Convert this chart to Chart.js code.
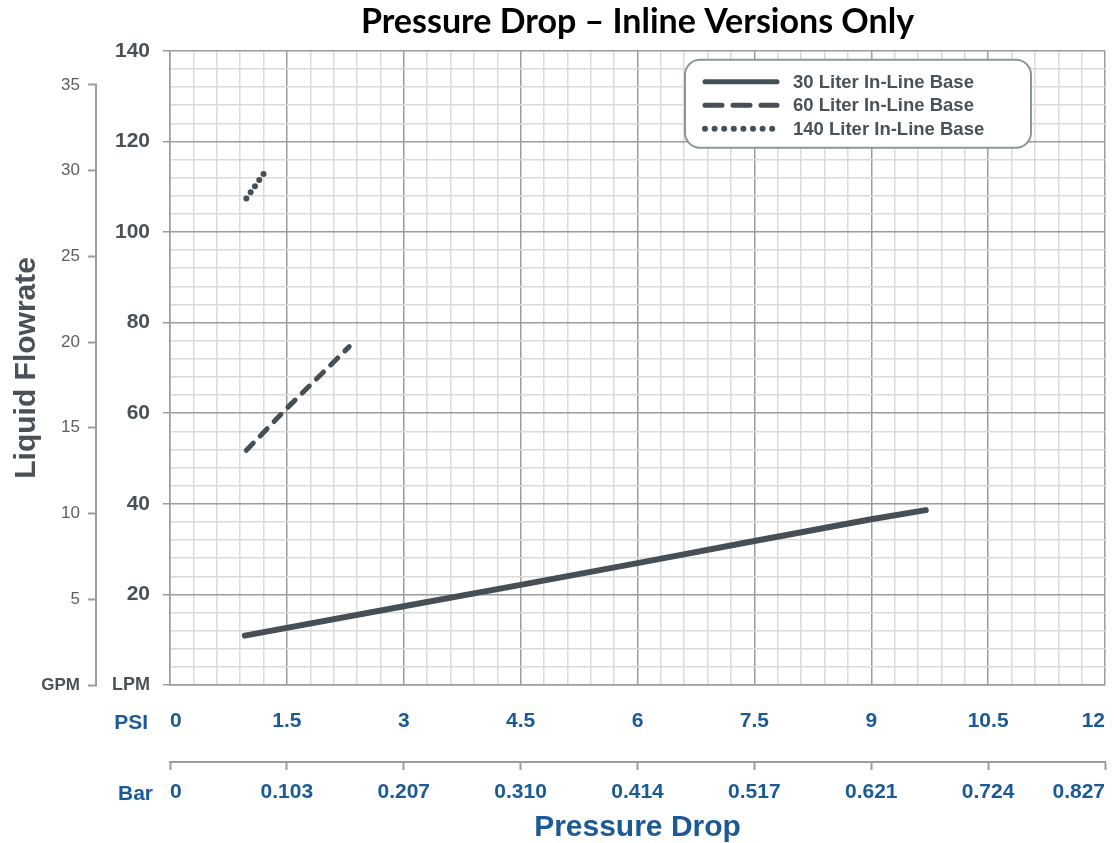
<!DOCTYPE html>
<html>
<head>
<meta charset="utf-8">
<title>Pressure Drop – Inline Versions Only</title>
<script src="https://cdn.jsdelivr.net/npm/chart.js@4.4.1/dist/chart.umd.min.js"></script>
<style>
	html, body { margin: 0; padding: 0; background: #fff; }
	#wrap { width: 1114px; height: 843px; }
</style>
</head>
<body>
<div id="wrap"><canvas id="chart1"></canvas></div>
<script>
'use strict';
// series (PSI on x, LPM on y)
var seriesNames = ['30 Liter In-Line Base', '60 Liter In-Line Base', '140 Liter In-Line Base'];
var psi30 = [0.96, 3, 4.5, 6, 7.5, 9, 9.7];
var lpm30 = [10.9, 17.4, 22.1, 26.9, 31.8, 36.6, 38.6];
var psi60 = [0.98, 1.5, 2.3];
var lpm60 = [51.8, 61.1, 74.7];
var psi140 = [0.98, 1.22];
var lpm140 = [107.4, 113.3];

// tick labels
var psiLabels = ['0', '1.5', '3', '4.5', '6', '7.5', '9', '10.5', '12'];
var barLabels = ['0', '0.103', '0.207', '0.310', '0.414', '0.517', '0.621', '0.724', '0.827'];
var lpmLabels = ['LPM', '20', '40', '60', '80', '100', '120', '140'];
var gpmLabels = ['GPM', '5', '10', '15', '20', '25', '30', '35'];
var LPM_PER_GPM = 3.785;

var FONT = "'Liberation Sans', Arial, sans-serif";
var blue = '#1c5a96';
var grey = '#4b5257';
var lineColor = '#454f55';
var majorGrid = '#9c9c9c';
var minorGrid = '#dadada';

Chart.defaults.font.family = FONT;

var toPoints = function (xs, ys) {
	return xs.map(function (x, i) { return { x: x, y: ys[i] }; });
};
var isMajorPsi = function (v) { return Math.round(v * 10) % 15 === 0; };
var isMajorLpm = function (v) { return Math.round(v) % 20 === 0; };

// legend drawn inside the plot, top right
var legendDash = [[], [17, 11], [0, 9.6]];
var legendWidth = [5, 5, 6];
var insetLegend = {
	id: 'insetLegend',
	afterDatasetsDraw: function (chart) {
		var ctx = chart.ctx, area = chart.chartArea;
		var left = area.right - 420, top = area.top + 9, w = 346, h = 88, r = 15;
		ctx.save();
		ctx.beginPath();
		ctx.moveTo(left + r, top);
		ctx.arcTo(left + w, top, left + w, top + h, r);
		ctx.arcTo(left + w, top + h, left, top + h, r);
		ctx.arcTo(left, top + h, left, top, r);
		ctx.arcTo(left, top, left + w, top, r);
		ctx.closePath();
		ctx.fillStyle = '#fff';
		ctx.fill();
		ctx.strokeStyle = '#8d969a';
		ctx.lineWidth = 2;
		ctx.stroke();
		chart.data.datasets.forEach(function (ds, i) {
			var y = top + 22 + i * 23.5;
			ctx.beginPath();
			ctx.setLineDash(legendDash[i]);
			ctx.lineCap = 'round';
			ctx.lineWidth = legendWidth[i];
			ctx.strokeStyle = ds.borderColor;
			ctx.moveTo(left + 20, y);
			ctx.lineTo(left + 92, y);
			ctx.stroke();
			ctx.setLineDash([]);
			ctx.fillStyle = grey;
			ctx.font = 'bold 18.5px ' + FONT;
			ctx.textAlign = 'left';
			ctx.textBaseline = 'middle';
			ctx.fillText(ds.label, left + 108, y + 1);
		});
		ctx.restore();
	}
};

// "PSI" / "Bar" row names and the GPM axis line
var sideLabels = {
	id: 'sideLabels',
	afterDraw: function (chart) {
		var ctx = chart.ctx, gpm = chart.scales.gpm, xs = chart.scales.x, bar = chart.scales.bar;
		var last = gpm.ticks[gpm.ticks.length - 1].value;
		ctx.save();
		ctx.strokeStyle = majorGrid;
		ctx.lineWidth = 2;
		ctx.beginPath();
		ctx.moveTo(gpm.right - 1, gpm.getPixelForValue(0) + 1);
		ctx.lineTo(gpm.right - 1, gpm.getPixelForValue(last) - 1);
		ctx.stroke();
		ctx.font = 'bold 21px ' + FONT;
		ctx.fillStyle = blue;
		ctx.textAlign = 'right';
		ctx.textBaseline = 'middle';
		ctx.fillText('PSI', xs.left - 22, xs.top + 38);
		ctx.fillText('Bar', bar.left - 17, bar.top + 32);
		ctx.restore();
	}
};

var ctx = document.getElementById('chart1');
var myChart = new Chart(ctx, {
	type: 'line',
	data: {
		datasets: [{
			label: seriesNames[0],
			data: toPoints(psi30, lpm30),
			borderColor: lineColor,
			borderWidth: 6,
			borderCapStyle: 'round',
			borderJoinStyle: 'round',
			pointRadius: 0,
			fill: false
		}, {
			label: seriesNames[1],
			data: toPoints(psi60, lpm60),
			borderColor: lineColor,
			borderWidth: 5,
			borderDash: [10, 10],
			borderCapStyle: 'round',
			pointRadius: 0,
			fill: false
		}, {
			label: seriesNames[2],
			data: toPoints(psi140, lpm140),
			borderColor: lineColor,
			borderWidth: 6,
			borderDash: [0, 7.5],
			borderCapStyle: 'round',
			pointRadius: 0,
			fill: false
		}]
	},
	options: {
		responsive: true,
		maintainAspectRatio: false,
		animation: false,
		events: [],
		layout: { padding: { top: 0, right: 9, bottom: 0, left: 0 } },
		plugins: {
			legend: { display: false },
			tooltip: { enabled: false },
			title: {
				display: true,
				fullSize: false,
				text: 'Pressure Drop – Inline Versions Only',
				color: '#000',
				font: { family: 'Lato', size: 34, weight: 'bold' },
				padding: { top: 2, bottom: 8 }
			}
		},
		scales: {
			x: {
				type: 'linear',
				position: 'bottom',
				weight: 0,
				min: 0,
				max: 12,
				afterFit: function (scale) { scale.height = 77; scale.paddingLeft = 0; scale.paddingRight = 0; },
				grid: {
					drawTicks: false,
					lineWidth: 1.5,
					color: function (c) { return c.tick && isMajorPsi(c.tick.value) ? majorGrid : minorGrid; }
				},
				border: { color: majorGrid, width: 1.5 },
				ticks: {
					stepSize: 0.3,
					autoSkip: false,
					maxRotation: 0,
					align: 'inner',
					padding: 24,
					color: blue,
					font: { size: 21, weight: 'bold' },
					callback: function (v) { return isMajorPsi(v) ? psiLabels[Math.round(v / 1.5)] : ''; }
				}
			},
			bar: {
				type: 'linear',
				position: 'bottom',
				weight: 1,
				min: 0,
				max: 12,
				afterFit: function (scale) { scale.height = 81; scale.paddingLeft = 0; scale.paddingRight = 0; },
				grid: { drawOnChartArea: false, tickLength: 8, tickColor: majorGrid, tickWidth: 2 },
				border: { color: majorGrid, width: 2 },
				ticks: {
					stepSize: 1.5,
					autoSkip: false,
					maxRotation: 0,
					align: 'inner',
					padding: 10,
					color: blue,
					font: { size: 21, weight: 'bold' },
					callback: function (v, i) { return barLabels[i]; }
				},
				title: {
					display: true,
					text: 'Pressure Drop',
					color: blue,
					font: { size: 30, weight: 'bold', lineHeight: 1 },
					padding: 0
				}
			},
			y: {
				type: 'linear',
				position: 'left',
				weight: 0,
				min: 0,
				max: 140,
				afterFit: function (scale) { scale.width = 73; },
				grid: {
					lineWidth: 1.5,
					tickLength: 7,
					tickWidth: 1.5,
					color: function (c) { return c.tick && isMajorLpm(c.tick.value) ? majorGrid : minorGrid; },
					tickColor: function (c) { return c.tick && isMajorLpm(c.tick.value) ? majorGrid : 'rgba(0,0,0,0)'; }
				},
				border: { color: majorGrid, width: 1.5 },
				ticks: {
					stepSize: 4,
					autoSkip: false,
					padding: 13,
					color: grey,
					font: function (c) {
						return { size: c.tick && c.tick.value === 0 ? 18 : 21, weight: 'bold' };
					},
					callback: function (v) { return isMajorLpm(v) ? lpmLabels[Math.round(v / 20)] : ''; }
				}
			},
			gpm: {
				type: 'linear',
				position: 'left',
				weight: 1,
				min: 0,
				max: 140 / LPM_PER_GPM,
				afterFit: function (scale) { scale.width = 97; },
				grid: { drawOnChartArea: false, tickLength: 9, tickColor: majorGrid, tickWidth: 2 },
				border: { display: false },
				ticks: {
					stepSize: 5,
					includeBounds: false,
					autoSkip: false,
					padding: 8,
					color: function (c) { return c.tick && c.tick.value === 0 ? grey : '#5a5f63'; },
					font: function (c) {
						return c.tick && c.tick.value === 0 ? { size: 17, weight: 'bold' } : { size: 17, weight: 'normal' };
					},
					callback: function (v, i) { return gpmLabels[i]; }
				},
				title: {
					display: true,
					text: 'Liquid Flowrate',
					color: grey,
					font: { size: 30, weight: 'bold' },
					padding: { top: 9, bottom: 0 }
				}
			}
		}
	},
	plugins: [insetLegend, sideLabels]
});
</script>
</body>
</html>
